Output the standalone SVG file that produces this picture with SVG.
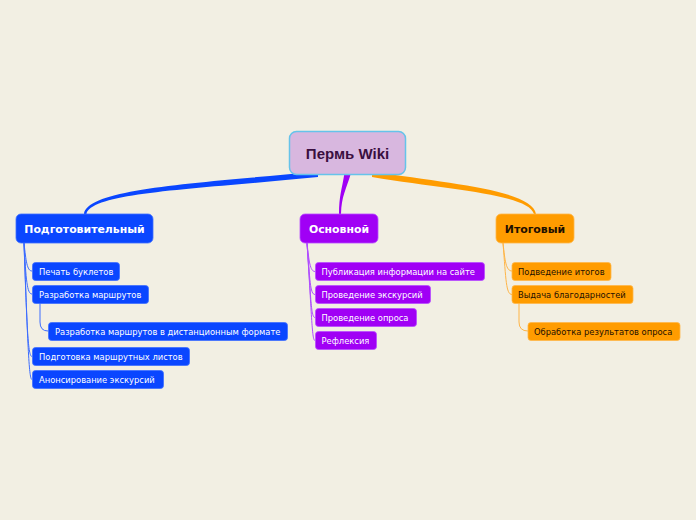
<svg xmlns="http://www.w3.org/2000/svg" width="696" height="520" viewBox="0 0 696 520">
<style>
.t{font-family:"DejaVu Sans",Verdana,sans-serif;font-size:8.35px;}
.m{font-family:"DejaVu Sans",Verdana,sans-serif;font-size:10.9px;font-weight:bold;text-anchor:middle;}
.b rect{fill:#0a46ff;stroke:#3f70ff;stroke-width:0.8;}
.p rect{fill:#a000f5;stroke:#b84cff;stroke-width:0.8;}
.o rect{fill:#ff9c00;stroke:#ffb84a;stroke-width:0.8;}
.w{fill:#ffffff;}
.k{fill:#1e1000;}
.lb{fill:none;stroke:#3c6cff;stroke-width:1;}
.lp{fill:none;stroke:#b04cff;stroke-width:1;}
.lo{fill:none;stroke:#ffb547;stroke-width:1;}
</style>
<rect width="696" height="520" fill="#f2efe3"/>
<g id="connectors">
<path d="M 318,171.5 C 200,183 87,188 84,214 L 86.5,214 C 91,192 200,189 318,177 Z" fill="#0a46ff"/>
<path d="M 344.5,173 L 351,173 C 346,190 341.5,196 341,214 L 339,214 C 339,196 342,189 344.5,173 Z" fill="#a000f5"/>
<path d="M 372,171.5 C 452,184 532,190 536,214 L 534,214 C 528,194 450,190 372,177 Z" fill="#ff9c00"/>
<path class="lb" d="M 24,243 C 26,261 27,271 32,271"/>
<path class="lb" d="M 24,243 C 26,280 27,294 32,294"/>
<path class="lb" d="M 24,243 C 27,330 28,356.5 32,356.5"/>
<path class="lb" d="M 24,243 C 28,350 29,379.5 32,379.5"/>
<path class="lb" d="M 40,303 L 40,322 Q 40,331 48,331"/>
<path class="lp" d="M 307,243 C 309,261 310,271.5 315,271.5"/>
<path class="lp" d="M 307,243 C 310,280 310,294.5 315,294.5"/>
<path class="lp" d="M 307,243 C 311,300 311,317.5 315,317.5"/>
<path class="lp" d="M 307,243 C 312,320 312,340.5 315,340.5"/>
<path class="lo" d="M 503,243 C 505,261 506,271 512,271"/>
<path class="lo" d="M 503,243 C 506,280 506,294.5 512,294.5"/>
<path class="lo" d="M 519,303 L 519,322 Q 519,331 528,331"/>
</g>
<g id="root">
<rect x="289.5" y="131.5" width="116" height="43" rx="7" fill="#d8b7df" stroke="#66c3ea" stroke-width="1.5"/>
<text x="347.5" y="158.5" text-anchor="middle" font-family="'Liberation Sans',Arial,sans-serif" font-size="15" font-weight="bold" fill="#3a0f40">Пермь Wiki</text>
</g>
<g id="n1" class="b"><rect x="16" y="214" width="137" height="29" rx="5"/><text class="m w" x="84.5" y="232.8">Подготовительный</text></g>
<g id="n2" class="p"><rect x="300" y="214" width="78" height="29" rx="5"/><text class="m w" x="339" y="232.8">Основной</text></g>
<g id="n3" class="o"><rect x="496" y="214" width="78" height="29" rx="5"/><text class="m k" x="535" y="232.8">Итоговый</text></g>
<g id="n1a" class="b"><rect x="32.5" y="262.5" width="87" height="18" rx="3"/><text class="t w" x="39" y="274.8">Печать буклетов</text></g>
<g id="n1b" class="b"><rect x="32.5" y="285.5" width="116" height="18" rx="3"/><text class="t w" x="39" y="297.8">Разработка маршрутов</text></g>
<g id="n1b1" class="b"><rect x="48.5" y="322.5" width="239" height="18" rx="3"/><text class="t w" x="55" y="334.8">Разработка маршрутов в дистанционным формате</text></g>
<g id="n1c" class="b"><rect x="32.5" y="347.5" width="157" height="18" rx="3"/><text class="t w" x="39" y="359.8">Подготовка маршрутных листов</text></g>
<g id="n1d" class="b"><rect x="32.5" y="370.5" width="131" height="18" rx="3"/><text class="t w" x="39" y="382.8">Анонсирование экскурсий</text></g>
<g id="n2a" class="p"><rect x="315.5" y="262.5" width="169" height="18" rx="3"/><text class="t w" x="321.5" y="274.8">Публикация информации на сайте</text></g>
<g id="n2b" class="p"><rect x="315.5" y="285.5" width="115" height="18" rx="3"/><text class="t w" x="321.5" y="297.8">Проведение экскурсий</text></g>
<g id="n2c" class="p"><rect x="315.5" y="308.5" width="101" height="18" rx="3"/><text class="t w" x="321.5" y="320.8">Проведение опроса</text></g>
<g id="n2d" class="p"><rect x="315.5" y="331.5" width="61" height="18" rx="3"/><text class="t w" x="321.5" y="343.8">Рефлексия</text></g>
<g id="n3a" class="o"><rect x="512" y="262.5" width="99" height="18" rx="3"/><text class="t k" x="518" y="274.8">Подведение итогов</text></g>
<g id="n3b" class="o"><rect x="512" y="285.5" width="121" height="18" rx="3"/><text class="t k" x="518" y="297.8">Выдача благодарностей</text></g>
<g id="n3b1" class="o"><rect x="528" y="322.5" width="152" height="18" rx="3"/><text class="t k" x="534" y="334.8">Обработка результатов опроса</text></g>
</svg>
